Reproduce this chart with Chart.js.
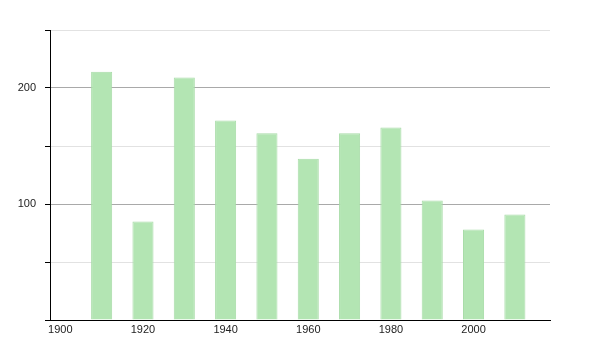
<!DOCTYPE html>
<html>
<head>
<meta charset="utf-8">
<script src="https://cdn.jsdelivr.net/npm/chart.js@4/dist/chart.umd.min.js"></script>
<style>
  html, body { margin: 0; padding: 0; background: #fff; }
  #wrap { width: 600px; height: 350px; position: relative; }
</style>
</head>
<body>
<div id="wrap"><canvas id="popChart"></canvas></div>
<script>
// decades and values
const years = [1910, 1920, 1930, 1940, 1950, 1960, 1970, 1980, 1990, 2000, 2010];
const values = [214, 85, 209, 172, 161, 139, 161, 166, 103, 78, 91];
const xTickLabels = [1900, 1920, 1940, 1960, 1980, 2000];
const yTickValues = [0, 50, 100, 150, 200, 250];
const yLabelled = [100, 200];

const font = { family: "'Liberation Sans', Arial, sans-serif", size: 11 };

const ctx = document.getElementById('popChart').getContext('2d');

new Chart(ctx, {
    type: 'bar',
    data: {
        datasets: [{
            data: years.map((y, i) => ({ x: y, y: values[i] })),
            backgroundColor: '#b3e5b3',
            borderColor: '#a8dca8',
            borderWidth: 1,
            barPercentage: 0.51,
            categoryPercentage: 1.0,
        }],
    },
    options: {
        responsive: true,
        maintainAspectRatio: false,
        animation: false,
        layout: { padding: { left: 0, top: 30, right: 50, bottom: 0 } },
        plugins: {
            legend: { display: false },
            tooltip: { enabled: false },
        },
        scales: {
            x: {
                type: 'linear',
                min: 1897.5,
                max: 2018.5,
                offset: false,
                afterBuildTicks: axis => { axis.ticks = xTickLabels.map(v => ({ value: v })); },
                afterFit: axis => { axis.height = 30; },
                grid: { display: false, offset: false, drawTicks: false },
                border: { display: true, color: '#000', width: 1 },
                ticks: {
                    font,
                    color: '#222',
                    padding: 3,
                    maxRotation: 0,
                    callback: v => String(v),
                },
            },
            y: {
                min: 0,
                max: 250,
                afterBuildTicks: axis => { axis.ticks = yTickValues.map(v => ({ value: v })); },
                afterFit: axis => { axis.width = 50; },
                grid: {
                    color: c => (yLabelled.includes(c.tick.value) ? '#a9a9a9' : '#e2e2e2'),
                    tickColor: '#000',
                    tickLength: 5,
                    drawOnChartArea: true,
                },
                border: { display: true, color: '#000', width: 1 },
                ticks: {
                    font,
                    color: '#222',
                    padding: 9,
                    callback: v => (yLabelled.includes(v) ? String(v) : ''),
                },
            },
        },
    },
});
</script>
</body>
</html>
